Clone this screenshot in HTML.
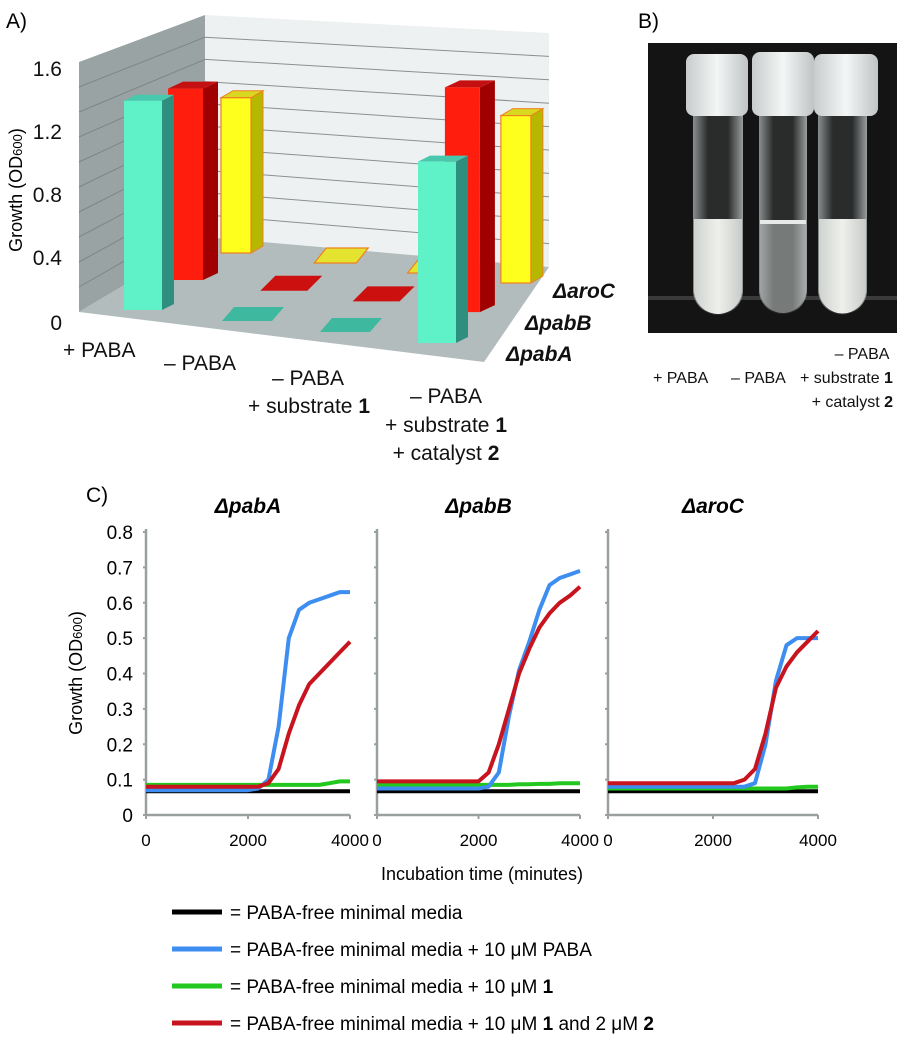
<!DOCTYPE html>
<html><head><meta charset="utf-8">
<style>
html,body{margin:0;padding:0;background:#fff;}
svg{display:block;font-family:"Liberation Sans",Arial,sans-serif;}
</style></head>
<body>
<svg id="fig" width="906" height="1050" viewBox="0 0 906 1050" xmlns="http://www.w3.org/2000/svg">
  <g id="panelA">
    <text x="6" y="28" font-size="21">A)</text>
    <polygon points="79,62 205,15 205,237 79,312" fill="#9aa3a3"/>
    <polygon points="205,15 549,33 549,267 205,237" fill="#eef1f1"/>
    <polygon points="79,312 205,237 549,267 484,362" fill="#b2bcbc"/>
    <g id="gridA"></g>
    <g id="barsA"></g>
    <g font-size="21" fill="#111">
      <text x="62" y="76" text-anchor="end">1.6</text>
      <text x="62" y="139" text-anchor="end">1.2</text>
      <text x="62" y="202" text-anchor="end">0.8</text>
      <text x="62" y="265" text-anchor="end">0.4</text>
      <text x="62" y="330" text-anchor="end">0</text>
    </g>
    <text transform="translate(22,190) rotate(-90)" font-size="18" text-anchor="middle">Growth (OD<tspan font-size="13">600</tspan>)</text>
    <g font-size="21" fill="#111">
      <text x="63" y="357">+ PABA</text>
      <text x="164" y="370">– PABA</text>
      <text x="308" y="385" text-anchor="middle">– PABA</text>
      <text x="309" y="413" text-anchor="middle">+ substrate <tspan font-weight="bold">1</tspan></text>
      <text x="446" y="403" text-anchor="middle">– PABA</text>
      <text x="446" y="432" text-anchor="middle">+ substrate <tspan font-weight="bold">1</tspan></text>
      <text x="446" y="460" text-anchor="middle">+ catalyst <tspan font-weight="bold">2</tspan></text>
    </g>
    <g font-size="21" font-weight="bold" font-style="italic" fill="#111">
      <text x="553" y="298">ΔaroC</text>
      <text x="525" y="330">ΔpabB</text>
      <text x="506" y="361">ΔpabA</text>
    </g>
  </g>

  <g id="panelB">
    <text x="638" y="28" font-size="21">B)</text>
    <defs>
      <linearGradient id="cloud" x1="0" x2="1" y1="0" y2="0">
        <stop offset="0" stop-color="#cfd3cf"/><stop offset="0.5" stop-color="#eef0ec"/><stop offset="1" stop-color="#c8ccc8"/>
      </linearGradient>
      <linearGradient id="glass" x1="0" x2="1" y1="0" y2="0">
        <stop offset="0" stop-color="#8a8e8e"/><stop offset="0.3" stop-color="#2a2c2c"/><stop offset="0.7" stop-color="#2a2c2c"/><stop offset="1" stop-color="#9a9e9e"/>
      </linearGradient>
      <linearGradient id="cap" x1="0" x2="1" y1="0" y2="0">
        <stop offset="0" stop-color="#c8cccc"/><stop offset="0.5" stop-color="#f4f6f6"/><stop offset="1" stop-color="#c0c4c4"/>
      </linearGradient>
    </defs>
    <rect x="648" y="43" width="249" height="290" fill="#141414"/>
    <rect x="648" y="296" width="249" height="4" fill="#3a3a3a"/>
    <g>
      <path d="M693,110 V290 a25,25 0 0 0 50,0 V110 Z" fill="url(#glass)"/>
      <path d="M694,219 V290 a24,24 0 0 0 48,0 V219 Z" fill="url(#cloud)"/>
      <rect x="686" y="54" width="62" height="62" rx="8" fill="url(#cap)"/>
    </g>
    <g>
      <path d="M759,110 V290 a24,24 0 0 0 48,0 V110 Z" fill="url(#glass)"/>
      <path d="M760,222 V290 a23,23 0 0 0 46,0 V222 Z" fill="#b8bcbc" opacity="0.55"/>
      <rect x="760" y="220" width="46" height="4" fill="#e8eaea"/>
      <rect x="752" y="52" width="62" height="64" rx="8" fill="url(#cap)"/>
    </g>
    <g>
      <path d="M818,110 V290 a24.5,24.5 0 0 0 49,0 V110 Z" fill="url(#glass)"/>
      <path d="M819,219 V290 a23.5,23.5 0 0 0 47,0 V219 Z" fill="url(#cloud)"/>
      <rect x="814" y="54" width="64" height="62" rx="8" fill="url(#cap)"/>
    </g>
    <g font-size="16" fill="#111">
      <text x="862" y="359" text-anchor="middle">– PABA</text>
      <text x="653" y="383">+ PABA</text>
      <text x="731" y="383">– PABA</text>
      <text x="800" y="383">+ substrate <tspan font-weight="bold">1</tspan></text>
      <text x="893" y="407" text-anchor="end">+ catalyst <tspan font-weight="bold">2</tspan></text>
    </g>
  </g>

  <g id="panelC">
    <text x="86" y="502" font-size="21">C)</text>
    <text transform="translate(82,673) rotate(-90)" font-size="18" text-anchor="middle">Growth (OD<tspan font-size="13">600</tspan>)</text>
    <g id="plotsC"></g>
    <text x="482" y="880" font-size="18" text-anchor="middle">Incubation time (minutes)</text>
    <g id="legendC"></g>
  </g>
</svg>
<script>
const categoriesA = ["+ PABA", "- PABA", "- PABA + substrate 1", "- PABA + substrate 1 + catalyst 2"];
const strainsA = ["pabA", "pabB", "aroC"];
const valuesPabA = [1.35, 0, 0, 1.17];
const valuesPabB = [1.32, 0, 0, 1.55];
const valuesAroC = [1.15, 0, 0, 1.24];

const timesC = [0, 1000, 2000, 2200, 2400, 2600, 2800, 3000, 3200, 3400, 3600, 3800, 4000];
const xTicksC = [0, 2000, 4000];
const yTicksC = [0, 0.1, 0.2, 0.3, 0.4, 0.5, 0.6, 0.7, 0.8];
const panelTitlesC = ["pabA", "pabB", "aroC"];
const pabABlack = [0.067,0.067,0.067,0.067,0.067,0.067,0.067,0.067,0.067,0.067,0.067,0.067,0.067];
const pabABlue  = [0.07,0.07,0.07,0.075,0.1,0.25,0.5,0.58,0.6,0.61,0.62,0.63,0.63];
const pabAGreen = [0.085,0.085,0.085,0.085,0.085,0.085,0.085,0.085,0.085,0.085,0.09,0.095,0.095];
const pabARed   = [0.08,0.08,0.08,0.08,0.09,0.13,0.23,0.31,0.37,0.4,0.43,0.46,0.49];
const pabBBlack = [0.067,0.067,0.067,0.067,0.067,0.067,0.067,0.067,0.067,0.067,0.067,0.067,0.067];
const pabBBlue  = [0.075,0.075,0.075,0.08,0.12,0.28,0.41,0.49,0.58,0.65,0.67,0.68,0.69];
const pabBGreen = [0.085,0.085,0.085,0.085,0.085,0.085,0.087,0.087,0.088,0.088,0.09,0.09,0.09];
const pabBRed   = [0.095,0.095,0.095,0.12,0.2,0.3,0.4,0.47,0.53,0.57,0.6,0.62,0.645];
const aroCBlack = [0.067,0.067,0.067,0.067,0.067,0.067,0.067,0.067,0.067,0.067,0.067,0.067,0.067];
const aroCBlue  = [0.08,0.08,0.08,0.08,0.08,0.08,0.09,0.2,0.38,0.48,0.5,0.5,0.5];
const aroCGreen = [0.075,0.075,0.075,0.075,0.075,0.075,0.075,0.075,0.075,0.075,0.078,0.08,0.08];
const aroCRed   = [0.09,0.09,0.09,0.09,0.09,0.1,0.13,0.23,0.36,0.42,0.46,0.49,0.52];
const legendLabels = ["= PABA-free minimal media", "= PABA-free minimal media + 10 μM PABA", "= PABA-free minimal media + 10 μM 1", "= PABA-free minimal media + 10 μM 1 and 2 μM  2"];

const NS = "http://www.w3.org/2000/svg";
function mk(tag, attrs, parent){ const e=document.createElementNS(NS,tag); for(const k in attrs) e.setAttribute(k,attrs[k]); parent.appendChild(e); return e; }

(function(){
  const grid=document.getElementById('gridA');
  for(let i=1;i<10;i++){
    const f=i/10;
    const y1=237-(237-15)*f, y2=267-(267-33)*f;
    const l=mk('line',{x1:205,y1:y1,x2:549,y2:y2,stroke:'#8a9090','stroke-width':1},grid);
    
    
    const yl=312-(312-62)*f;
    const l2=mk('line',{x1:79,y1:yl,x2:205,y2:y1,stroke:'#7d8686','stroke-width':1},grid);
    
    
  }
  const rowGeom = {
    pabA:{x0:124,y0:310,dx:98,dy:11,w:38,sd:12,sy:6,scale:155,front:'#5ff2c8',side:'#2f8f7f',top:'#48c8ad',flat:'#3fb8a0',stroke:'none'},
    pabB:{x0:168,y0:280,dx:92.3,dy:10.7,w:35,sd:15,sy:7,scale:145,front:'#ff1e0e',side:'#a00000',top:'#c41010',flat:'#cc1010',stroke:'none'},
    aroC:{x0:221,y0:253,dx:93.3,dy:10,w:30,sd:12,sy:7,scale:135,front:'#ffff1e',side:'#b6b800',top:'#d8d820',flat:'#e4e430',stroke:'#f08020'}
  };
  function xScaleA(row,col){ return rowGeom[row].x0+col*rowGeom[row].dx; }
  function yScaleA(row,col,v){ return rowGeom[row].y0+col*rowGeom[row].dy - v*rowGeom[row].scale; }
  const bars=document.getElementById('barsA');
  const order=[["aroC",valuesAroC],["pabB",valuesPabB],["pabA",valuesPabA]];
  order.forEach(([row,vals])=>{
    const g=rowGeom[row];
    vals.forEach((v,c)=>{
      const x=xScaleA(row,c), yb=yScaleA(row,c,0), yt=yScaleA(row,c,v);
      const grp=mk('g',{},bars);
      
      
      if(v<0.02){
        const w=g.w+12;
        mk('polygon',{points:`${x},${yb} ${x+w},${yb} ${x+w+g.sd},${yb-g.sy-8} ${x+g.sd},${yb-g.sy-8}`,fill:g.flat,stroke:g.stroke,'stroke-width':1.2},grp);
      } else {
        mk('polygon',{points:`${x+g.w},${yt} ${x+g.w+g.sd},${yt-g.sy} ${x+g.w+g.sd},${yb-g.sy} ${x+g.w},${yb}`,fill:g.side,stroke:g.stroke,'stroke-width':1},grp);
        mk('polygon',{points:`${x},${yt} ${x+g.w},${yt} ${x+g.w+g.sd},${yt-g.sy} ${x+g.sd},${yt-g.sy}`,fill:g.top,stroke:g.stroke,'stroke-width':1},grp);
        mk('rect',{x:x,y:yt,width:g.w,height:yb-yt,fill:g.front,stroke:g.stroke,'stroke-width':1.2},grp);
      }
    });
  });
})();

(function(){
  const plots=document.getElementById('plotsC');
  const panels=[
    {x0:146,x1:350,series:[pabABlack,pabAGreen,pabABlue,pabARed]},
    {x0:377,x1:580,series:[pabBBlack,pabBGreen,pabBBlue,pabBRed]},
    {x0:608,x1:818,series:[aroCBlack,aroCGreen,aroCBlue,aroCRed]}
  ];
  const colors=['#000000','#22c81e','#3d8ef0','#c8141e'];
  const yTop=532, yBot=815;
  function yScaleC(v){ return yBot-(v/0.8)*(yBot-yTop); }
  panels.forEach((p,pi)=>{
    const xScaleC=t=>p.x0+(t/4000)*(p.x1-p.x0);
    const g=mk('g',{},plots);
    
    
    const title=mk('text',{x:(p.x0+p.x1)/2,y:513,'font-size':21,'font-weight':'bold','font-style':'italic','text-anchor':'middle'},g);
    title.textContent='Δ'+panelTitlesC[pi];
    
    
    const ya=mk('line',{x1:p.x0,y1:yTop-3,x2:p.x0,y2:yBot,stroke:'#9aa0a0','stroke-width':2.5},g);
    
    
    const xa=mk('line',{x1:p.x0,y1:yBot,x2:p.x1,y2:yBot,stroke:'#9aa0a0','stroke-width':2.5},g);
    
    
    yTicksC.forEach(v=>{
      const tk=mk('line',{x1:p.x0-3,y1:yScaleC(v),x2:p.x0,y2:yScaleC(v),stroke:'#9aa0a0','stroke-width':2},g);
      
      
      if(pi===0){
        const t=mk('text',{x:133,y:yScaleC(v)+7,'font-size':19,'text-anchor':'end'},g);
        t.textContent=String(v);
        
        
      }
    });
    xTicksC.forEach(v=>{
      const tk=mk('line',{x1:xScaleC(v),y1:yBot,x2:xScaleC(v),y2:yBot+4,stroke:'#9aa0a0','stroke-width':2},g);
      
      
      const t=mk('text',{x:xScaleC(v),y:846,'font-size':17,'text-anchor':'middle'},g);
      t.textContent=String(v);
      
      
    });
    p.series.forEach((vals,si)=>{
      const pts=timesC.map((t,i)=>xScaleC(t).toFixed(1)+','+yScaleC(vals[i]).toFixed(1)).join(' ');
      const pl=mk('polyline',{points:pts,fill:'none',stroke:colors[si],'stroke-width':4,'stroke-linejoin':'round'},g);
      
      
    });
  });
  const leg=document.getElementById('legendC');
  const legColors=['#000000','#3d8ef0','#22c81e','#c8141e'];
  legendLabels.forEach((lab,i)=>{
    const y=912+i*37;
    const ln=mk('line',{x1:172,y1:y,x2:222,y2:y,stroke:legColors[i],'stroke-width':5},leg);
    
    
    const t=mk('text',{x:230,y:y+7,'font-size':19},leg);
    
    
    const m=lab.match(/^(.*μM )(1)( and 2 μM  )(2)$/) || lab.match(/^(.*μM )(1)$/);
    if(m){
      for(let k=1;k<m.length;k++){
        const ts=document.createElementNS(NS,'tspan');
        ts.textContent=m[k];
        if(m[k]==='1'||m[k]==='2') ts.setAttribute('font-weight','bold');
        t.appendChild(ts);
      }
    } else t.textContent=lab;
  });
})();
</script>
</body></html>
